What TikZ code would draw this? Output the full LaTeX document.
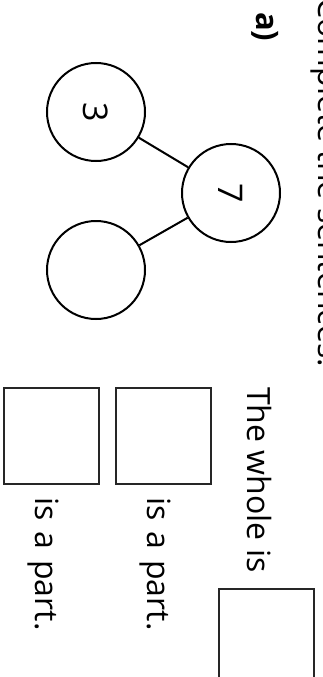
\documentclass[tikz,border=0pt]{standalone}
\usepackage{fontspec}
\setmainfont{Open Sans}
\newcommand{\widespaces}{\spaceskip=11pt\relax}
\begin{document}
\begin{tikzpicture}[x=1pt,y=1pt,
  txt/.style={rotate=-90, inner sep=0pt, anchor=base west, font=\fontsize{32}{38}\selectfont},
  wide/.style={font=\fontsize{32}{38}\selectfont\widespaces},
  bond/.style={circle, draw, line width=2pt, minimum size=98pt, inner sep=0pt, rotate=-90,
    font=\fontsize{34}{40}\selectfont},
  answerbox/.style={draw=black!85, line width=2.4pt, minimum width=95pt, minimum height=96pt, inner sep=0pt},
  link/.style={line width=2pt}]
\useasboundingbox (0,0) rectangle (322,-677);
\clip (0,0) rectangle (322,-677);

% heading and question label
\node[txt, anchor=base east] (head) at (318,-367) {Complete the sentences.};
\node[txt, font=\fontsize{31}{36}\selectfont\bfseries] (qa) at (256,-12) {a)};

% part-whole model
\node[bond] (whole) at (231,-193) {7};
\node[bond] (partA) at (96,-112) {3};
\node[bond] (partB) at (96,-270) {};
\draw[link] (partA) -- (whole);
\draw[link] (partB) -- (whole);

% sentences
\node[txt] (s1) at (247,-387) {The whole is};
\node[answerbox, anchor=north west] (b1) at (218,-588) {};
\node[answerbox, anchor=north west] (b2) at (115,-387) {};
\node[txt, wide] (s2) at (147,-497) {is a part.};
\node[answerbox, anchor=north west] (b3) at (3,-387) {};
\node[txt, wide] (s3) at (35,-497) {is a part.};
\end{tikzpicture}
\end{document}
